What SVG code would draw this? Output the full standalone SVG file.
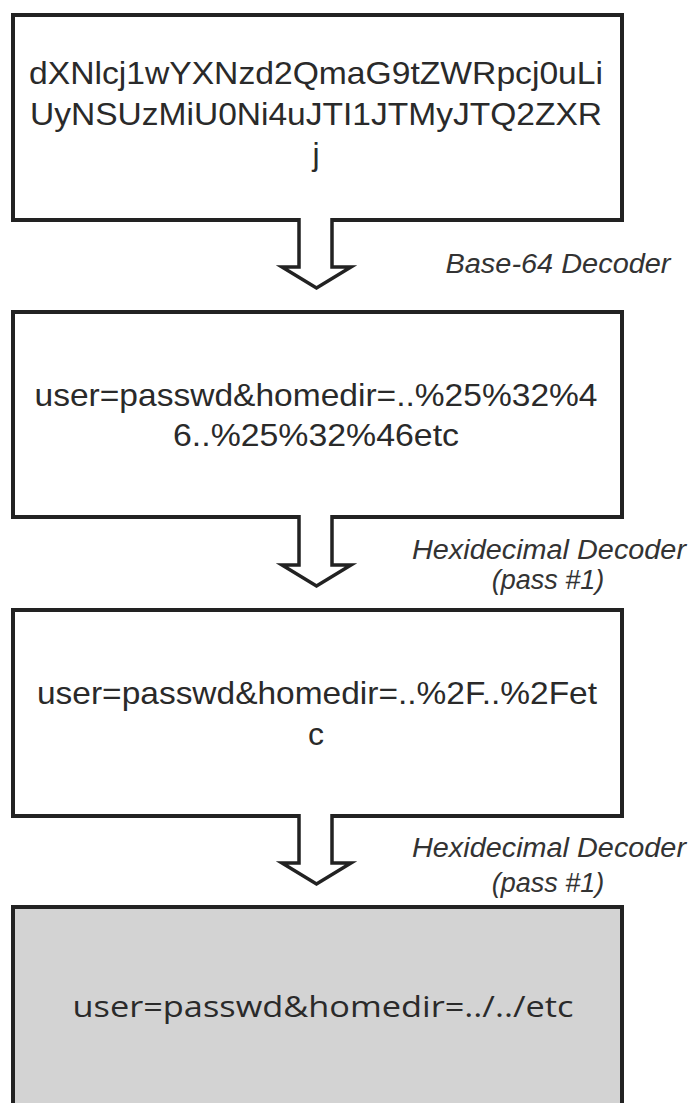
<svg xmlns="http://www.w3.org/2000/svg" width="689" height="1103" viewBox="0 0 689 1103">
<style>
.box{fill:#fff;stroke:#222;stroke-width:4}
.final{fill:#d3d3d3;stroke:#222;stroke-width:4}
.t{font-family:"Liberation Sans",Arial,sans-serif;font-size:32px;fill:#2a2a2a;text-anchor:middle}
.t4{font-family:"Open Sans","Noto Sans",sans-serif;font-size:30px;fill:#2a2a2a;text-anchor:middle}
.lbl{font-family:"Liberation Sans",Arial,sans-serif;font-size:27px;font-style:italic;fill:#333;text-anchor:middle}
.afill{fill:#fff;stroke:none}
.aline{fill:none;stroke:#222;stroke-width:3.5;stroke-linejoin:miter}
</style>
<rect width="689" height="1103" fill="#fff"/>
<g id="node-encoded">
<rect class="box" x="13" y="15" width="609" height="205"/>
<text class="t" x="316" y="84" textLength="574" lengthAdjust="spacingAndGlyphs">dXNlcj1wYXNzd2QmaG9tZWRpcj0uLi</text>
<text class="t" x="316" y="125" textLength="572" lengthAdjust="spacingAndGlyphs">UyNSUzMiU0Ni4uJTI1JTMyJTQ2ZXR</text>
<text class="t" x="316" y="165">j</text>
</g>
<g id="node-base64">
<rect class="box" x="13" y="312" width="609" height="205"/>
<text class="t" x="316" y="406" textLength="563" lengthAdjust="spacingAndGlyphs">user=passwd&amp;homedir=..%25%32%4</text>
<text class="t" x="316" y="446" textLength="286" lengthAdjust="spacingAndGlyphs">6..%25%32%46etc</text>
</g>
<g id="node-hex1">
<rect class="box" x="13" y="610" width="609" height="206"/>
<text class="t" x="317" y="704" textLength="560" lengthAdjust="spacingAndGlyphs">user=passwd&amp;homedir=..%2F..%2Fet</text>
<text class="t" x="316" y="745">c</text>
</g>
<g id="node-result">
<rect class="final" x="13" y="907" width="609" height="220"/>
<text class="t4" x="323" y="1017" textLength="501" lengthAdjust="spacingAndGlyphs">user=passwd&amp;homedir=../../etc</text>
</g>
<g id="connectors">
<path class="afill" d="M299,217.5 V267 H282 L316.5,288 L351,267 H332 V217.5 Z"/>
<path class="aline" d="M299,218 V267 H282 L316.5,288 L351,267 H332 V218"/>
<path class="afill" d="M299,514.5 V565 H282 L316.5,586 L351,565 H332 V514.5 Z"/>
<path class="aline" d="M299,515 V565 H282 L316.5,586 L351,565 H332 V515"/>
<path class="afill" d="M299,813.5 V863 H282 L316.5,884 L351,863 H332 V813.5 Z"/>
<path class="aline" d="M299,814 V863 H282 L316.5,884 L351,863 H332 V814"/>
</g>
<g id="labels">
<text class="lbl" x="558" y="273" textLength="225" lengthAdjust="spacingAndGlyphs">Base-64 Decoder</text>
<text class="lbl" x="549" y="559" textLength="274" lengthAdjust="spacingAndGlyphs">Hexidecimal Decoder</text>
<text class="lbl" x="548" y="589">(pass #1)</text>
<text class="lbl" x="549" y="857" textLength="274" lengthAdjust="spacingAndGlyphs">Hexidecimal Decoder</text>
<text class="lbl" x="548" y="892">(pass #1)</text>
</g>
</svg>
